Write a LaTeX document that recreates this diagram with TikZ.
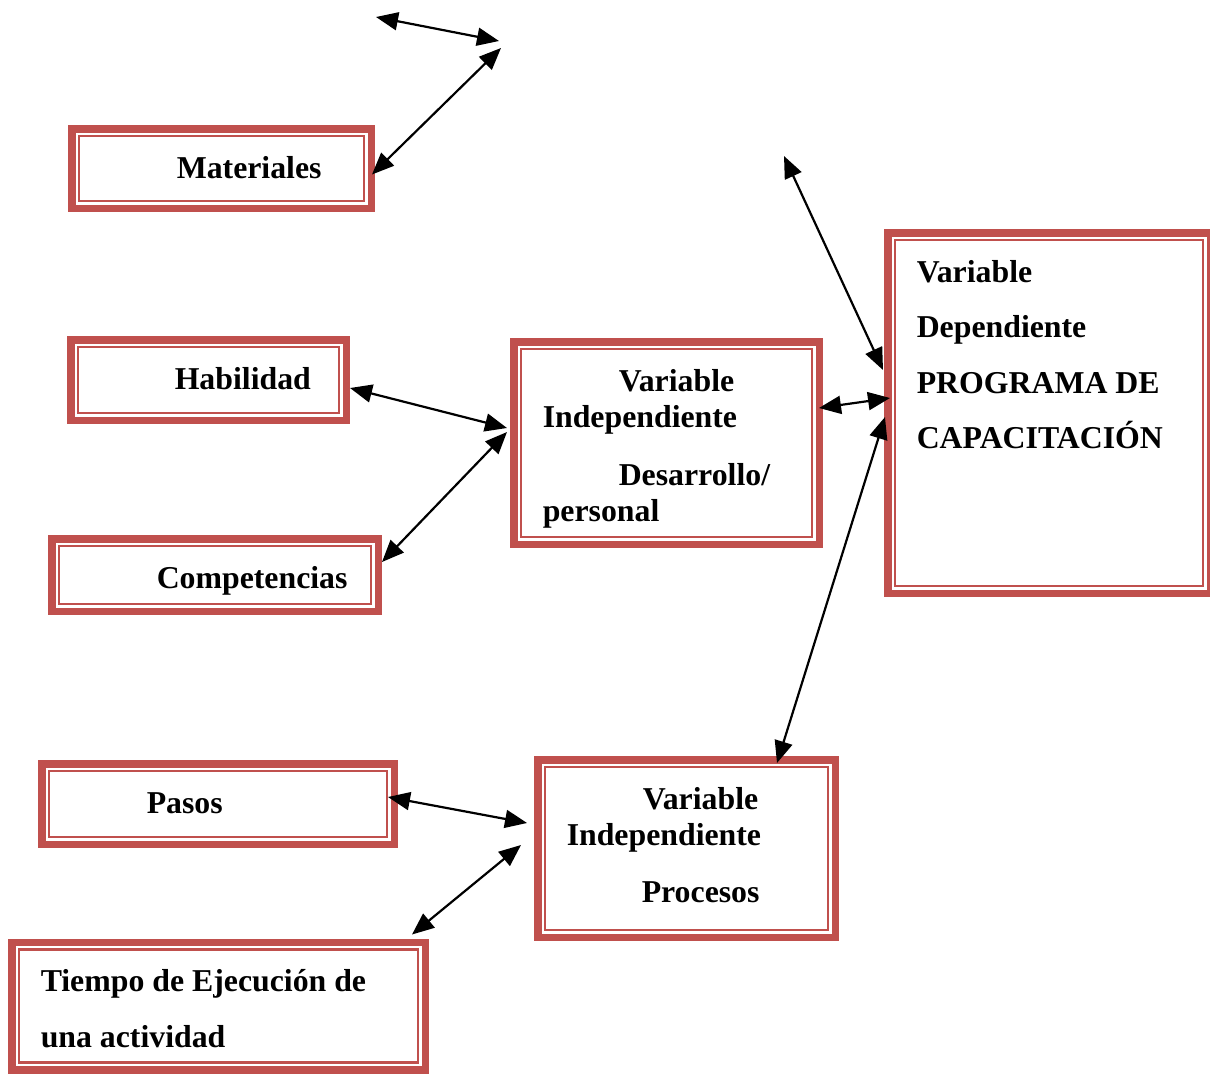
\documentclass[tikz,border=0pt]{standalone}
\usepackage{fontspec}
\setmainfont{Liberation Serif}
\usetikzlibrary{arrows.meta,calc}
\definecolor{rojocaja}{RGB}{192,80,77}

\begin{document}
\begin{tikzpicture}[x=1pt,y=-1pt,
  caja/.style={draw=rojocaja, line width=7.5pt, outer sep=3.75pt,
    inner xsep=29pt, inner ysep=0pt, align=flush left, text height=49.25pt,
    font=\fontsize{31.8}{36}\selectfont\bfseries},
  caja ancha/.style={caja, font=\fontsize{31.8}{55.5}\selectfont\bfseries},
  marco/.style={draw=rojocaja, line width=2.3pt},
  flecha/.style={{Triangle[length=22pt,width=18pt]}-{Triangle[length=22pt,width=18pt]}, line width=2.2pt}]
\useasboundingbox (0,0) rectangle (1210,1074);

% cajas
\node [caja, text width=241.5pt, text depth=30.25pt] (mat) at (221.5,168.5) {\hspace*{76pt}Materiales};
\node [caja, text width=217.5pt, text depth=31.25pt] (hab) at (208.5,380) {\hspace*{75pt}Habilidad};
\node [caja, text width=268.5pt, text depth=23.25pt] (comp) at (215,575) {\hspace*{76pt}Competencias};
\node [caja, text width=247.5pt, text depth=153.25pt] (vid) at (666.5,443)
  {\hspace*{76pt}Variable\\Independiente\\[22pt]\hspace*{76pt}Desarrollo/\\personal};
\node [caja ancha, text width=264.5pt, text depth=311.25pt] (vdep) at (1049,413)
  {Variable\\Dependiente\\PROGRAMA DE\\CAPACITACIÓN};
\node [caja, text width=294.5pt, text depth=31.25pt] (pasos) at (218,804) {\hspace*{76pt}Pasos};
\node [caja, text width=239.5pt, text depth=128.25pt] (vip) at (686.5,848.5)
  {\hspace*{76pt}Variable\\Independiente\\[21pt]\hspace*{75pt}Procesos};
\node [caja ancha, text width=355.5pt, text depth=78.25pt] (tiempo) at (218.5,1006)
  {Tiempo de Ejecución de\\una actividad};

% linea interior de cada caja
\foreach \c in {mat,hab,comp,vid,vdep,pasos,vip,tiempo}
{
\draw [marco] ([shift={(10.95,10.95)}]\c.north west) rectangle ([shift={(-10.95,-10.95)}]\c.south east);
}

% extremos sueltos
\coordinate (a1) at (376,17);
\coordinate (a2) at (499,41);
\coordinate (b1) at (501,48);
\coordinate (c1) at (784,156);

% flechas
\draw [flecha] (a1) -- (a2);
\draw [flecha] (b1) -- ($(mat.east)+(-3,6)$);
\draw [flecha] (c1) -- ($(vdep.west)+(-1,-43)$);
\draw [flecha] ($(vid.east)+(-4,-35)$) -- ($(vdep.west)+(6,-15)$);
\draw [flecha] ($(hab.east)+(0,8)$) -- ($(vid.west)+(-3,-15)$);
\draw [flecha] ($(vid.west)+(-3,-11)$) -- ($(comp.east)+(0,-13)$);
\draw [flecha] ($(vdep.west)+(1,4)$) -- ($(vip.north)+(90.5,7)$);
\draw [flecha] ($(pasos.east)+(-10,-7)$) -- ($(vip.west)+(-7,-25.5)$);
\draw [flecha] ($(vip.west)+(-13,-3.5)$) -- ($(tiempo.north east)+(-17,-4)$);
\end{tikzpicture}
\end{document}
